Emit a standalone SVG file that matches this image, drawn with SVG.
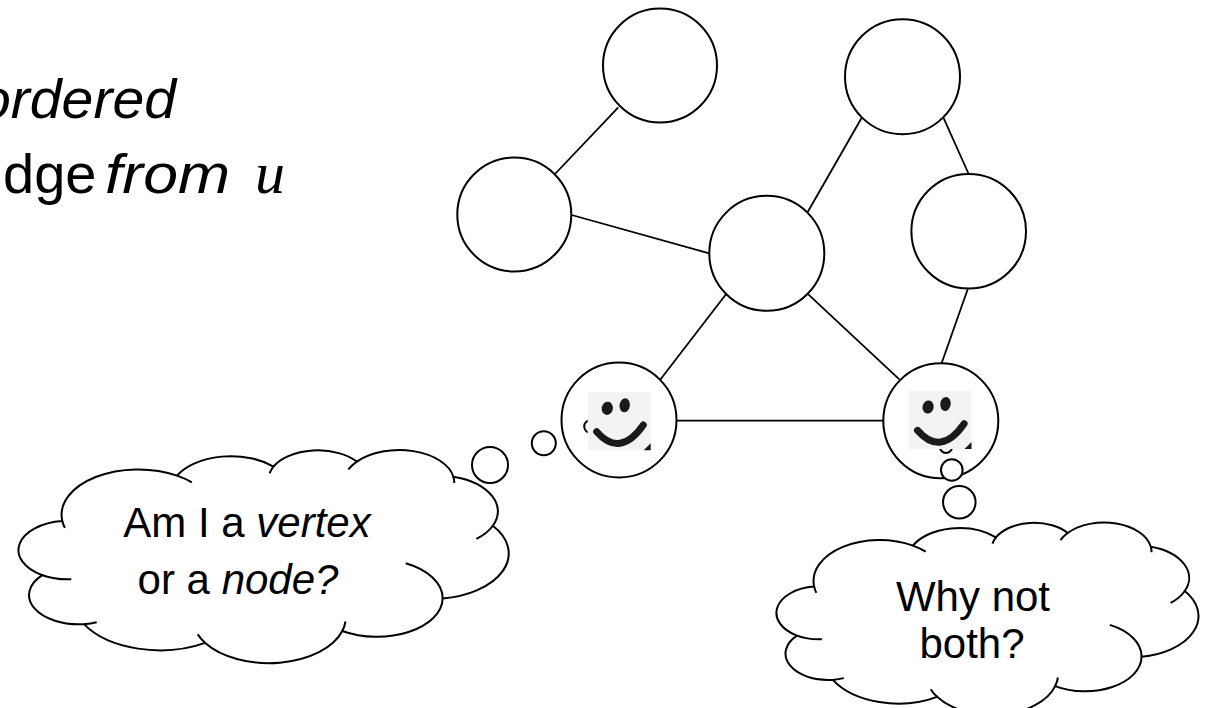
<svg xmlns="http://www.w3.org/2000/svg" xmlns:xlink="http://www.w3.org/1999/xlink" width="1207" height="708" viewBox="0 0 1207 708">
<style>
.node{fill:#fff;stroke:#000;stroke-width:2}
.edge{stroke:#000;stroke-width:1.8;fill:none}
.bubble{fill:#fff;stroke:#000;stroke-width:2}
.cloud{fill:#fff;stroke:#000;stroke-width:2}
.cloudin{fill:none;stroke:#000;stroke-width:2}
.txt{font-family:"Liberation Sans",Arial,sans-serif;fill:#000}
.it{font-style:italic}
.math{font-family:"Liberation Serif","DejaVu Serif",serif;font-style:italic}
</style>
<defs>
<g id="smiley">
<rect x="0" y="0" width="63" height="58" fill="#f3f3f3"/>
<ellipse cx="19.6" cy="16" rx="5.6" ry="6.6" transform="rotate(10 19.6 16)" fill="#1a1a1a"/>
<ellipse cx="37" cy="13" rx="5.2" ry="7" transform="rotate(8 37 13)" fill="#1a1a1a"/>
<path d="M9 39.4 Q32.3 66 55.6 32.7" fill="none" stroke="#1a1a1a" stroke-width="7" stroke-linecap="round"/>
<polygon points="63,51 63,58 56,58" fill="#1a1a1a"/>
</g>
</defs>

<g id="text-top" class="txt">
<text x="-21" y="118" font-size="56" class="it" textLength="197" lengthAdjust="spacingAndGlyphs">ordered</text>
<text y="193" font-size="56"><tspan x="3">dge</tspan><tspan x="105" class="it" textLength="125" lengthAdjust="spacingAndGlyphs">from</tspan><tspan x="255" class="math" font-size="60">u</tspan></text>
</g>

<g id="connectors">
<line class="edge" x1="618.3" y1="107.3" x2="555" y2="174"/>
<line class="edge" x1="571.7" y1="215" x2="709.3" y2="253.3"/>
<line class="edge" x1="807.7" y1="212" x2="862" y2="117.3"/>
<line class="edge" x1="943.3" y1="117.3" x2="968.7" y2="174"/>
<line class="edge" x1="726" y1="294.3" x2="660" y2="380"/>
<line class="edge" x1="808.3" y1="294.3" x2="899.3" y2="379.3"/>
<line class="edge" x1="967.7" y1="289.3" x2="941.7" y2="363"/>
<line class="edge" x1="676.7" y1="420.7" x2="883.3" y2="420.7"/>
</g>

<g id="node-top-left"><circle class="node" cx="660" cy="65.5" r="57"/></g>
<g id="node-top-right"><circle class="node" cx="902.5" cy="76.7" r="57.5"/></g>
<g id="node-left"><circle class="node" cx="514.3" cy="214.5" r="57"/></g>
<g id="node-center"><circle class="node" cx="766.8" cy="253.3" r="57.5"/></g>
<g id="node-right"><circle class="node" cx="968.7" cy="231.3" r="57.3"/></g>
<g id="node-smiley-left"><circle class="node" cx="619" cy="420" r="57.5"/></g>
<g id="node-smiley-right"><circle class="node" cx="940.8" cy="420.8" r="57.5"/></g>

<g id="bubbles-left">
<circle class="bubble" cx="490" cy="465" r="18"/>
<circle class="bubble" cx="543.8" cy="443.3" r="12"/>
<circle class="bubble" cx="590.5" cy="426.5" r="6.3"/>
</g>
<g id="bubbles-right">
<circle class="bubble" cx="946" cy="447" r="6"/>
<circle class="bubble" cx="951.8" cy="470" r="10.8"/>
<circle class="bubble" cx="959.3" cy="502.2" r="16.3"/>
</g>

<use xlink:href="#smiley" href="#smiley" x="587.7" y="392.3"/>
<use xlink:href="#smiley" href="#smiley" x="908.5" y="391"/>

<g id="cloud-left">
<g transform="translate(18 450) scale(0.01136 0.004935)">
<path class="cloud" vector-effect="non-scaling-stroke" d="M3900 14370 A6753 9190 0 0 1 14000 5192 A5333 7267 0 0 1 22490 3350 A4365 5945 0 0 1 29830 2350 A4857 6595 0 0 1 38324 5426 A5333 7273 0 0 1 41798 15354 A6775 9220 0 0 1 37382 30093 A5785 7867 0 0 1 28546 36680 A6752 9215 0 0 1 16478 39090 A7720 10543 0 0 1 5811 35288 A4360 5918 0 0 1 2144 25369 A4345 5945 0 0 1 3900 14370 Z"/>
<path class="cloudin" vector-effect="non-scaling-stroke" d="M4693 26177 A4345 5945 0 0 1 2144 25369 M6928 34899 A4360 5918 0 0 1 5811 35288 M16478 39090 A6752 9215 0 0 1 15817 37371 M28827 34751 A6752 9215 0 0 1 28546 36680 M34129 22954 A5785 7867 0 0 1 37382 30093 M41798 15354 A5333 7273 0 0 1 40350 18030 M38324 5426 A4857 6595 0 0 1 38400 6690 M29078 3952 A4857 6595 0 0 1 29830 2350 M22141 4720 A4365 5945 0 0 1 22490 3350 M14000 5192 A6753 9190 0 0 1 15306 6550 M4127 15789 A6753 9190 0 0 1 3900 14370"/>
</g>
<text class="txt" x="247" y="537" font-size="42" text-anchor="middle">Am I a <tspan class="it">vertex</tspan></text>
<text class="txt" x="238" y="594" font-size="42" text-anchor="middle">or a <tspan class="it">node?</tspan></text>
</g>

<g id="cloud-right">
<g transform="translate(776 522.5) scale(0.00978 0.00446)">
<path class="cloud" vector-effect="non-scaling-stroke" d="M3900 14370 A6753 9190 0 0 1 14000 5192 A5333 7267 0 0 1 22490 3350 A4365 5945 0 0 1 29830 2350 A4857 6595 0 0 1 38324 5426 A5333 7273 0 0 1 41798 15354 A6775 9220 0 0 1 37382 30093 A5785 7867 0 0 1 28546 36680 A6752 9215 0 0 1 16478 39090 A7720 10543 0 0 1 5811 35288 A4360 5918 0 0 1 2144 25369 A4345 5945 0 0 1 3900 14370 Z"/>
<path class="cloudin" vector-effect="non-scaling-stroke" d="M4693 26177 A4345 5945 0 0 1 2144 25369 M6928 34899 A4360 5918 0 0 1 5811 35288 M16478 39090 A6752 9215 0 0 1 15817 37371 M28827 34751 A6752 9215 0 0 1 28546 36680 M34129 22954 A5785 7867 0 0 1 37382 30093 M41798 15354 A5333 7273 0 0 1 40350 18030 M38324 5426 A4857 6595 0 0 1 38400 6690 M29078 3952 A4857 6595 0 0 1 29830 2350 M22141 4720 A4365 5945 0 0 1 22490 3350 M14000 5192 A6753 9190 0 0 1 15306 6550 M4127 15789 A6753 9190 0 0 1 3900 14370"/>
</g>
<text class="txt" x="973" y="611" font-size="42" text-anchor="middle">Why not</text>
<text class="txt" x="972" y="658" font-size="42" text-anchor="middle">both?</text>
</g>
</svg>
